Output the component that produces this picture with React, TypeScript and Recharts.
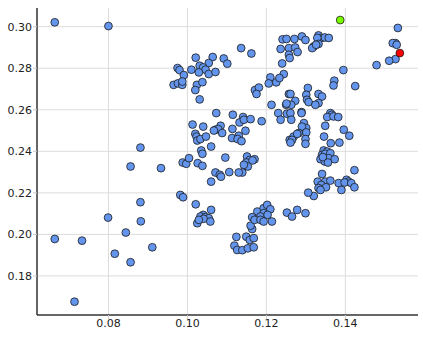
import React from 'react';
import { ScatterChart, Scatter, XAxis, YAxis, CartesianGrid } from 'recharts';

const xTicks = [0.08, 0.1, 0.12, 0.14];
const yTicks = [0.18, 0.2, 0.22, 0.24, 0.26, 0.28, 0.3];

const blueX = [
  0.0664, 0.0800, 0.1136, 0.1162, 0.1092, 0.1101, 0.1064, 0.1021, 0.1054, 0.1031,
  0.1040, 0.1046, 0.1010, 0.1029, 0.1054, 0.1071, 0.0975, 0.0980, 0.0991, 0.0965,
  0.0976, 0.0987, 0.0987, 0.1024, 0.1038, 0.1020, 0.1031, 0.1171, 0.1181, 0.1175,
  0.1073, 0.1115, 0.1213, 0.1230, 0.1250, 0.1241, 0.1236, 0.1257, 0.1257, 0.1240,
  0.1244, 0.1210, 0.1206, 0.1225, 0.1233, 0.1257,
  0.1533, 0.1527, 0.1520, 0.1530, 0.1527, 0.1511, 0.1479, 0.1395, 0.1372, 0.1370,
  0.1425, 0.1332, 0.1339, 0.1348, 0.1358, 0.1329, 0.1290, 0.1299, 0.1271, 0.1251,
  0.1320, 0.1316, 0.1332, 0.1326, 0.1273, 0.1279, 0.1259, 0.1305, 0.1301, 0.1303,
  0.1307, 0.1332, 0.1341, 0.1332, 0.1324, 0.1261, 0.1273, 0.1263, 0.1251, 0.1289,
  0.1362, 0.1366,
  0.0881, 0.0856, 0.0933, 0.0881, 0.0799, 0.0882, 0.0844, 0.0664, 0.0733, 0.0911,
  0.0816, 0.0856, 0.0714,
  0.1141, 0.1132, 0.1143, 0.1160, 0.1188, 0.1013, 0.1040, 0.1084, 0.1071, 0.1078,
  0.1088, 0.1067, 0.1114, 0.1147, 0.1020, 0.1023, 0.1025, 0.1033, 0.1047, 0.1113,
  0.1130, 0.1127, 0.1137, 0.1060, 0.1035, 0.1038, 0.1096, 0.1151, 0.1158, 0.1170,
  0.1149, 0.1165, 0.1153, 0.1143, 0.1139, 0.1130, 0.0988, 0.0997, 0.1004, 0.1026,
  0.1038, 0.1071, 0.1082, 0.1085, 0.1106, 0.1060, 0.0982, 0.0989, 0.1021, 0.1060,
  0.1040, 0.1033, 0.1046, 0.1054, 0.1177, 0.1193, 0.1202, 0.1210, 0.1193, 0.1185,
  0.1164, 0.1203, 0.1236, 0.1252, 0.1259,
  0.1261, 0.1263, 0.1289, 0.1295, 0.1301, 0.1290, 0.1301, 0.1282, 0.1269, 0.1278,
  0.1265, 0.1261, 0.1299, 0.1299, 0.1354, 0.1370, 0.1382, 0.1349, 0.1396, 0.1410,
  0.1346, 0.1363, 0.1385, 0.1345, 0.1354, 0.1341, 0.1349, 0.1362, 0.1337, 0.1348,
  0.1358, 0.1373, 0.1343, 0.1356, 0.1423, 0.1341, 0.1330, 0.1349, 0.1362, 0.1339,
  0.1332, 0.1351, 0.1337, 0.1320, 0.1306, 0.1383, 0.1390, 0.1403, 0.1408, 0.1398,
  0.1415, 0.1423, 0.1252, 0.1265, 0.1278, 0.1299,
  0.1025, 0.1041, 0.1058, 0.1029, 0.1124, 0.1119, 0.1126, 0.1139, 0.1153, 0.1168,
  0.1149, 0.1158, 0.1168, 0.1164, 0.1160, 0.1170, 0.1185, 0.1214, 0.1193,
];

const blueY = [
  0.3021, 0.3003, 0.2897, 0.2871, 0.2847, 0.2822, 0.2854, 0.2851, 0.2825, 0.2812,
  0.2804, 0.2793, 0.2793, 0.2780, 0.2772, 0.2782, 0.2801, 0.2791, 0.2767, 0.2720,
  0.2727, 0.2720, 0.2736, 0.2720, 0.2733, 0.2695, 0.2650, 0.2695, 0.2707, 0.2676,
  0.2584, 0.2576, 0.2624, 0.2584, 0.2624, 0.2939, 0.2893, 0.2897, 0.2865, 0.2823,
  0.2772, 0.2756, 0.2727, 0.2732, 0.2753, 0.2676,
  0.2994, 0.2921, 0.2921, 0.2913, 0.2844, 0.2836, 0.2815, 0.2791, 0.2740, 0.2717,
  0.2714, 0.2958, 0.2946, 0.2948, 0.2946, 0.2946, 0.2953, 0.2936, 0.2941, 0.2941,
  0.2905, 0.2897, 0.2917, 0.2913, 0.2900, 0.2878, 0.2849, 0.2705, 0.2672, 0.2648,
  0.2637, 0.2676, 0.2664, 0.2632, 0.2624, 0.2676, 0.2643, 0.2624, 0.2630, 0.2589,
  0.2584, 0.2576,
  0.2418, 0.2327, 0.2319, 0.2155, 0.2081, 0.2063, 0.2009, 0.1978, 0.1970, 0.1938,
  0.1907, 0.1866, 0.1676,
  0.2565, 0.2539, 0.2552, 0.2555, 0.2545, 0.2529, 0.2519, 0.2523, 0.2504, 0.2507,
  0.2488, 0.2500, 0.2508, 0.2499, 0.2484, 0.2471, 0.2452, 0.2459, 0.2471, 0.2464,
  0.2475, 0.2459, 0.2449, 0.2423, 0.2404, 0.2388, 0.2370, 0.2375, 0.2359, 0.2362,
  0.2346, 0.2356, 0.2327, 0.2335, 0.2298, 0.2298, 0.2346, 0.2340, 0.2367, 0.2343,
  0.2330, 0.2298, 0.2287, 0.2278, 0.2300, 0.2254, 0.2190, 0.2179, 0.2145, 0.2118,
  0.2094, 0.2086, 0.2083, 0.2078, 0.2110, 0.2126, 0.2142, 0.2121, 0.2102, 0.2086,
  0.2083, 0.2094, 0.2552, 0.2581, 0.2455,
  0.2584, 0.2552, 0.2584, 0.2536, 0.2512, 0.2519, 0.2491, 0.2488, 0.2471, 0.2484,
  0.2455, 0.2442, 0.2459, 0.2436, 0.2565, 0.2568, 0.2565, 0.2523, 0.2504, 0.2475,
  0.2471, 0.2439, 0.2442, 0.2404, 0.2399, 0.2383, 0.2388, 0.2391, 0.2362, 0.2351,
  0.2367, 0.2362, 0.2372, 0.2346, 0.2309, 0.2291, 0.2254, 0.2254, 0.2259, 0.2238,
  0.2223, 0.2227, 0.2214, 0.2185, 0.2201, 0.2247, 0.2214, 0.2263, 0.2254, 0.2250,
  0.2247, 0.2227, 0.2105, 0.2086, 0.2118, 0.2102,
  0.2054, 0.2075, 0.2062, 0.2070, 0.1988, 0.1946, 0.1925, 0.1924, 0.1933, 0.1938,
  0.1989, 0.1973, 0.1982, 0.2026, 0.2042, 0.2070, 0.2070, 0.2062, 0.2062,
];

const greenX = [0.1387];
const greenY = [0.3032];
const redX = [0.1538];
const redY = [0.2873];

const zip = (xs: number[], ys: number[]) => xs.map((x, i) => ({ x, y: ys[i] }));

const blueData = zip(blueX, blueY);
const greenData = zip(greenX, greenY);
const redData = zip(redX, redY);

const dot = (fill: string) => (props: any) => (
  <circle cx={props.cx} cy={props.cy} r={3.9} fill={fill} stroke="#1a1a1a" strokeWidth={0.8} />
);

const tickStyle = { fontFamily: 'DejaVu Sans', fontSize: 11, fill: '#222' };

export default function App() {
  return (
    <div style={{ position: 'absolute', left: 0, top: 0, width: 423, height: 338, background: '#fff' }}>
      <ScatterChart width={423} height={338} margin={{ top: 8, right: 5, bottom: 0, left: 0 }}>
        <CartesianGrid stroke="#dcdcdc" strokeWidth={1} horizontalValues={yTicks} verticalValues={xTicks} />
        <XAxis
          type="number"
          dataKey="x"
          domain={[0.0619, 0.1584]}
          ticks={xTicks}
          tickFormatter={(v: number) => v.toFixed(2)}
          height={23}
          tick={tickStyle}
          tickSize={4}
          tickMargin={0}
          tickLine={{ stroke: '#cccccc' }}
          axisLine={{ stroke: '#333', strokeWidth: 1.5 }}
          allowDataOverflow
        />
        <YAxis
          type="number"
          dataKey="y"
          domain={[0.1612, 0.309]}
          ticks={yTicks}
          tickFormatter={(v: number) => v.toFixed(2)}
          width={37}
          tick={tickStyle}
          tickSize={4}
          tickMargin={1}
          tickLine={{ stroke: '#cccccc' }}
          axisLine={{ stroke: '#333', strokeWidth: 1.5 }}
          allowDataOverflow
        />
        <Scatter data={blueData} isAnimationActive={false} shape={dot('#6495ed')} />
        <Scatter data={greenData} isAnimationActive={false} shape={dot('#7cfc00')} />
        <Scatter data={redData} isAnimationActive={false} shape={dot('#ff0000')} />
      </ScatterChart>
    </div>
  );
}
